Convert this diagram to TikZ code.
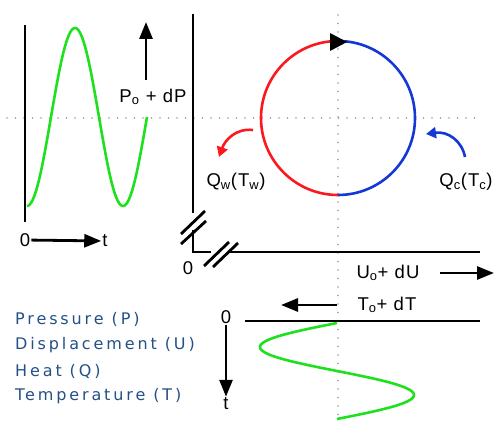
\documentclass[tikz,border=0pt]{standalone}
\usepackage{fontspec}
\setmainfont{Liberation Sans}[LetterSpace=6]
\newfontfamily\legendfont[LetterSpace=18]{DejaVu Sans}
\usetikzlibrary{arrows.meta}
\definecolor{wavegreen}{RGB}{30,225,30}
\definecolor{cyclered}{RGB}{250,25,30}
\definecolor{cycleblue}{RGB}{20,55,215}
\definecolor{legendblue}{RGB}{35,80,135}

\tikzset{
  axis/.style={line width=2.8pt},
  wave/.style={wavegreen, line width=2.6pt},
  guide/.style={gray!80, line width=1.6pt, line cap=round, dash pattern=on 0pt off 8.5pt},
  bigtip/.style={-{Triangle[length=17pt,width=13pt]}, line width=2.8pt},
  curvetip/.style={-{Triangle[length=10pt,width=11pt]}, line width=2.6pt},
  lbl/.style={font=\fontsize{18.5}{18.5}\selectfont, inner sep=1pt},
  legend/.style={legendblue, font=\legendfont\fontsize{16}{16}\selectfont, anchor=west, inner sep=0pt}
}

\begin{document}
\begin{tikzpicture}[x=1pt, y=-1pt]
 \useasboundingbox (0,0) rectangle (501,428);
 % guide lines
 \draw[guide] (7,118) -- (476,118);
 \draw[guide] (338,15) -- (338,420);
 % pressure against time
 \draw[axis] (25,25) -- (25,222);
 \draw[wave] plot[domain=27:147, samples=90] (\x, {117+89*cos(3.75*(\x-27))});
 \node[lbl] (zp) at (25,240) {0};
 \node[lbl] (tp) at (105,241) {t};
 \draw[bigtip] (zp) -- (tp);
 \node[lbl] (pl) at (153,97) {P\textsubscript{o} + dP};
 \coordinate (ptop) at (146,22);
 \draw[bigtip] (146,80) -- (ptop);
 % displacement axes with breaks
 \draw[axis] (193,14) -- (193,213);
 \draw[axis] (181,234) -- (205,211);
 \draw[axis] (181,244) -- (206,221);
 \draw[axis] (193,230) -- (193,252) -- (211,252);
 \draw[axis] (204,266) -- (229,242);
 \draw[axis] (213,267) -- (238,243);
 \draw[axis] (228,252) -- (480,252);
 \node[lbl] (zu) at (188,268) {0};
 % the cycle
 \coordinate (c) at (338,118);
 \draw[cyclered, line width=2.6pt] (338,41) arc[start angle=-90, end angle=-270, radius=77];
 \draw[cycleblue, line width=2.6pt] (338,41) arc[start angle=-90, end angle=90, radius=77];
 \fill (330,33) -- (347,42) -- (330,51) -- cycle;
 \node[lbl] (qw) at (236,182) {Q\textsubscript{w}(T\textsubscript{w})};
 \node[lbl] (qc) at (466,182) {Q\textsubscript{c}(T\textsubscript{c})};
 \coordinate (rs) at (253,130);
 \coordinate (re) at (219,157);
 \draw[curvetip, cyclered] (rs) .. controls (236,128) and (225,140) .. (re);
 \coordinate (bs) at (465,157);
 \coordinate (be) at (426,134);
 \draw[curvetip, cycleblue] (bs) .. controls (462,141) and (448,131) .. (be);
 % displacement and temperature labels
 \node[lbl] (ul) at (388,273) {U\textsubscript{o}+ dU};
 \coordinate (uend) at (494,273);
 \draw[bigtip] (440,273) -- (uend);
 \node[lbl] (tl) at (387,305) {T\textsubscript{o}+ dT};
 \coordinate (tend) at (281,305);
 \draw[bigtip] (337,305) -- (tend);
 % temperature against time
 \draw[axis] (245,321) -- (480,321);
 \draw[wave] plot[domain=323:419, samples=90, variable=\t] ({337-77*sin(3.75*(\t-323))}, \t);
 \node[lbl] (zt) at (226,317) {0};
 \node[lbl] (tt) at (226,404) {t};
 \draw[bigtip] (zt) -- (tt);
 % legend
 \node[legend] (lp) at (15,319) {Pressure (P)};
 \node[legend] (lu) at (15,345) {Displacement (U)};
 \node[legend] (lq) at (15,371) {Heat (Q)};
 \node[legend] (lt) at (15,396) {Temperature (T)};
\end{tikzpicture}
\end{document}
